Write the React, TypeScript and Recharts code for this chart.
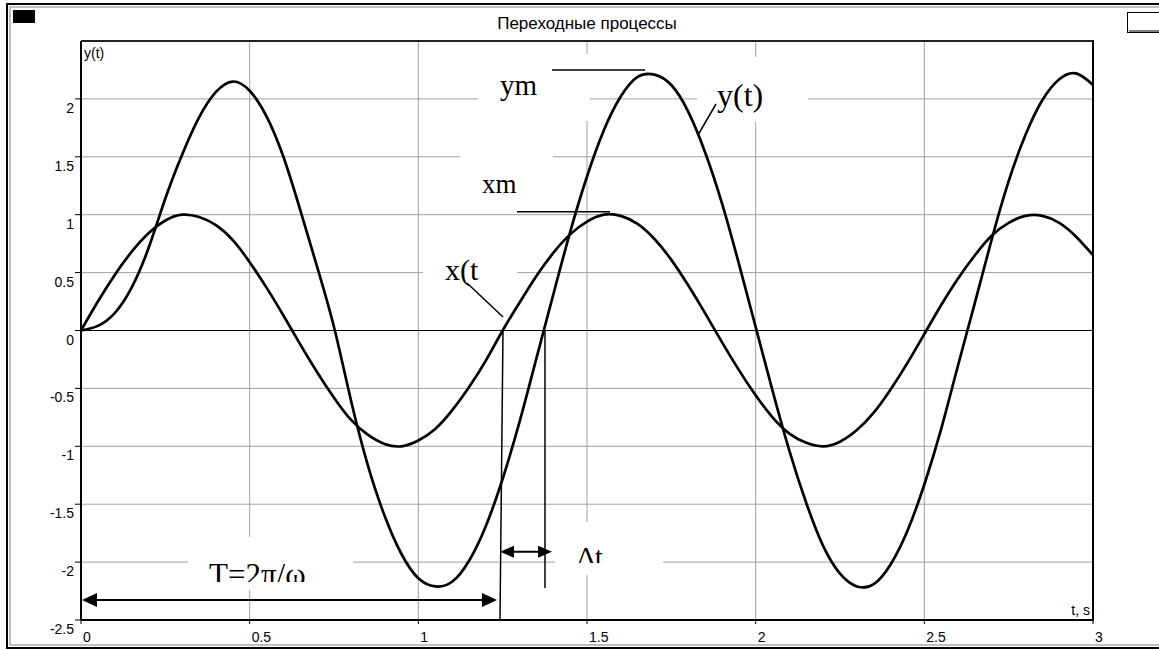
import React from 'react';
import { LineChart, Line, XAxis, YAxis, CartesianGrid, ReferenceLine } from 'recharts';

const TIME = [
  0, 0.05, 0.1, 0.15, 0.2, 0.25, 0.3, 0.35, 0.4, 0.45,
  0.5, 0.55, 0.6, 0.65, 0.7, 0.75, 0.8, 0.85, 0.9, 0.95,
  1, 1.05, 1.1, 1.15, 1.2, 1.25, 1.3, 1.35, 1.4, 1.45,
  1.5, 1.55, 1.6, 1.65, 1.7, 1.75, 1.8, 1.85, 1.9, 1.95,
  2, 2.05, 2.1, 2.15, 2.2, 2.25, 2.3, 2.35, 2.4, 2.45,
  2.5, 2.55, 2.6, 2.65, 2.7, 2.75, 2.8, 2.85, 2.9, 2.95, 3,
];

// входной сигнал x(t)
const X_VALUES = [
  0, 0.25, 0.48, 0.68, 0.84, 0.95, 1.0, 0.98, 0.91, 0.78,
  0.59, 0.37, 0.13, -0.12, -0.36, -0.58, -0.77, -0.9, -0.98, -1.0,
  -0.95, -0.85, -0.69, -0.49, -0.26, 0.0, 0.24, 0.47, 0.67, 0.83,
  0.94, 1.0, 0.99, 0.92, 0.79, 0.61, 0.39, 0.15, -0.1, -0.34,
  -0.56, -0.75, -0.89, -0.97, -1.0, -0.96, -0.86, -0.71, -0.51, -0.28,
  -0.03, 0.22, 0.45, 0.65, 0.82, 0.93, 0.99, 0.99, 0.93, 0.81, 0.65,
];

// выходной сигнал y(t)
const Y_VALUES = [
  0, 0.04, 0.15, 0.37, 0.71, 1.14, 1.52, 1.84, 2.06, 2.15,
  2.07, 1.85, 1.5, 1.04, 0.55, 0.03, -0.6, -1.16, -1.6, -1.93,
  -2.14, -2.21, -2.17, -1.99, -1.69, -1.28, -0.79, -0.24, 0.31, 0.85,
  1.33, 1.73, 2.02, 2.19, 2.21, 2.12, 1.89, 1.54, 1.1, 0.58,
  0.03, -0.52, -1.04, -1.49, -1.86, -2.1, -2.21, -2.19, -2.02, -1.73,
  -1.33, -0.85, -0.3, 0.24, 0.79, 1.29, 1.69, 1.99, 2.17, 2.22, 2.12,
];

const X_TICKS = [0, 0.5, 1, 1.5, 2, 2.5, 3];
const Y_TICKS = [-2.5, -2, -1.5, -1, -0.5, 0, 0.5, 1, 1.5, 2];

const SANS = '"Liberation Sans", Arial, sans-serif';
const SERIF = '"Liberation Serif", "Times New Roman", serif';

const YTick = ({ x, y, payload }: any) => (
  <text x={x} y={y + 14} textAnchor="end" fontSize={14} fontFamily={SANS} fill="#000">
    {payload.value}
  </text>
);

const XTick = ({ x, y, payload }: any) => (
  <text x={x + 2} y={y + 16} textAnchor="start" fontSize={14} fontFamily={SANS} fill="#000">
    {payload.value}
  </text>
);

const Arrow = ({ x, y, dir, len = 15, half = 7 }: { x: number; y: number; dir: 1 | -1; len?: number; half?: number }) => (
  <polygon points={`${x},${y} ${x - dir * len},${y - half} ${x - dir * len},${y + half}`} fill="#000" />
);

export default function App() {
  const data = TIME.map((t, i) => ({ t, x: X_VALUES[i], y: Y_VALUES[i] }));

  return (
    <div style={{ position: 'absolute', left: 0, top: 0, width: 1159, height: 650, background: '#fff', overflow: 'hidden' }}>
      {/* window frame */}
      <svg width={1159} height={650} style={{ position: 'absolute', left: 0, top: 0 }}>
        <rect x={7} y={4} width={1170} height={644} fill="none" stroke="#000" strokeWidth={2} />
        <rect x={10} y={7} width={1170} height={638} fill="none" stroke="#808080" strokeWidth={1} />
        <rect x={13} y={10} width={22} height={13} fill="#000" />
        <rect x={1127.5} y={12.5} width={40} height={20} fill="#fff" stroke="#000" strokeWidth={1} />
        <line x1={1129} y1={31} x2={1159} y2={31} stroke="#808080" strokeWidth={2} />
        <text x={587} y={29} textAnchor="middle" fontSize={17} fontFamily={SANS} fill="#000">
          Переходные процессы
        </text>
      </svg>

      <div style={{ position: 'absolute', left: 0, top: 0 }}>
        <LineChart width={1159} height={650} data={data} margin={{ top: 41, right: 66, bottom: 0, left: 0 }}>
          <CartesianGrid stroke="#a0a0a0" strokeWidth={1} />
          <XAxis
            dataKey="t"
            type="number"
            domain={[0, 3]}
            ticks={X_TICKS}
            height={30}
            axisLine={{ stroke: '#000', strokeWidth: 2 }}
            tickLine={{ stroke: '#000' }}
            tickSize={4}
            tickMargin={2}
            tick={<XTick />}
            interval={0}
          />
          <YAxis
            type="number"
            domain={[-2.5, 2.5]}
            ticks={Y_TICKS}
            width={81}
            axisLine={{ stroke: '#000', strokeWidth: 2 }}
            tickLine={{ stroke: '#000' }}
            tickSize={6}
            tickMargin={1}
            tick={<YTick />}
            interval={0}
          />
          <ReferenceLine y={0} stroke="#000" strokeWidth={1} />
          <Line dataKey="x" type="natural" stroke="#000" strokeWidth={2.7} dot={false} isAnimationActive={false} />
          <Line dataKey="y" type="natural" stroke="#000" strokeWidth={2.7} dot={false} isAnimationActive={false} />
        </LineChart>
      </div>

      {/* annotations */}
      <svg width={1159} height={650} style={{ position: 'absolute', left: 0, top: 0 }}>
        <defs>
          <clipPath id="clipT">
            <rect x={150} y={530} width={250} height={52} />
          </clipPath>
          <clipPath id="clipDt">
            <rect x={560} y={520} width={100} height={43} />
          </clipPath>
        </defs>

        {/* plot frame top/right */}
        <line x1={81} y1={41} x2={1093} y2={41} stroke="#222" strokeWidth={2} />
        <line x1={1093} y1={40} x2={1093} y2={621} stroke="#000" strokeWidth={2} />

        {/* white text boxes */}
        <rect x={478} y={54} width={112} height={67} fill="#fff" />
        <rect x={697} y={57} width={111} height={65} fill="#fff" />
        <rect x={460} y={140} width={93} height={65} fill="#fff" />
        <rect x={423} y={245} width={94} height={55} fill="#fff" />
        <rect x={188} y={537} width={165} height={53} fill="#fff" />
        <rect x={555} y={522} width={108} height={53} fill="#fff" />

        <text x={84} y={58} fontSize={14} fontFamily={SANS} fill="#000">y(t)</text>
        <text x={1090} y={615} fontSize={14} fontFamily={SANS} fill="#000" textAnchor="end">t, s</text>

        {/* amplitude marks */}
        <line x1={552} y1={70} x2={645} y2={70} stroke="#000" strokeWidth={1.5} />
        <line x1={517} y1={211.7} x2={610} y2={211.7} stroke="#000" strokeWidth={1.5} />
        <text x={500} y={95} fontSize={29} fontFamily={SERIF} fill="#000">ym</text>
        <text x={482} y={193} fontSize={27} fontFamily={SERIF} fill="#000">xm</text>

        {/* curve labels */}
        <line x1={716} y1={104} x2={698} y2={135} stroke="#000" strokeWidth={1.5} />
        <text x={717} y={106} fontSize={32} fontFamily={SERIF} fill="#000">y(t)</text>
        <line x1={467} y1={283} x2={503} y2={317} stroke="#000" strokeWidth={1.5} />
        <text x={445} y={280} fontSize={30} fontFamily={SERIF} fill="#000">x(t</text>

        {/* period and delay */}
        <line x1={503} y1={330} x2={500} y2={620} stroke="#000" strokeWidth={1.5} />
        <line x1={545} y1={330} x2={545} y2={588} stroke="#000" strokeWidth={1.5} />
        <line x1={90} y1={600} x2={490} y2={600} stroke="#000" strokeWidth={2} />
        <Arrow x={82} y={600} dir={-1} />
        <Arrow x={497} y={600} dir={1} />
        <line x1={508} y1={551.7} x2={545} y2={551.7} stroke="#000" strokeWidth={2} />
        <Arrow x={500} y={551.7} dir={-1} len={14} half={6} />
        <Arrow x={552} y={551.7} dir={1} len={14} half={6} />

        <g clipPath="url(#clipT)">
          <text x={209} y={585} fontSize={31} fontFamily={SERIF} fill="#000">T=2π/ω</text>
        </g>
        <g clipPath="url(#clipDt)">
          <text x={577} y={566} fontSize={28} fontFamily={SERIF} fill="#000">Δt</text>
        </g>
      </svg>
    </div>
  );
}
